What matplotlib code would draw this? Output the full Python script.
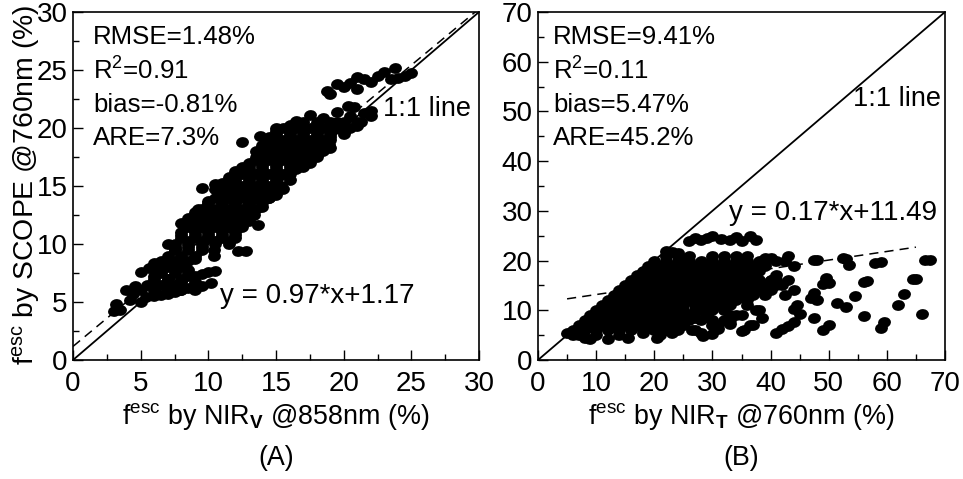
import matplotlib
matplotlib.use("Agg")
import matplotlib.pyplot as plt
from matplotlib.markers import MarkerStyle
from matplotlib.path import Path
from matplotlib.transforms import Affine2D
from matplotlib.ticker import MultipleLocator

plt.rcParams['font.family'] = ['Liberation Sans', 'DejaVu Sans']
plt.rcParams['mathtext.fontset'] = 'custom'
plt.rcParams['mathtext.rm'] = 'Liberation Sans'
plt.rcParams['mathtext.bf'] = 'Liberation Sans:bold'
plt.rcParams['mathtext.default'] = 'regular'

# Outline / isolated points
a_x = [3,3.2,3.5,3.9,4.2,4.6,5,5.4,6,6.5,7,7.5,8,8.5,9,9.5,10.2,
       9,9.5,10,10.5, 4.4,5,5.6,6,6.2,7,7.5,8,8.5,8.8,9.2,9.5,10.5,11,11.5,12,12.5,13.8,14.5,15,16,16.5,17.5,18.5,19.5,20.3,20.8,21.5,22,
       12.5,12.2,12.8,13.7,
       18.8,19,19.5,20,20.5,21,21,21.5,22,22.5,23,23.5,23.8,24,24.5,25,
       19,18.5,18,17.5,17,16,15.5,15,14.5,14,20,21,20,21.3,22,20.5,19.5,
       6,7,8,8.5]
a_y = [4.2,4.8,4.3,6,5.2,6.4,5,5.4,5.5,5.6,5.7,5.9,6,6.2,6.3,6.4,6.6,
       7.2,7.4,7.6,7.7, 5.7,7.6,7.9,8.4,7.5,10,9.6,11.8,12.2,11.5,13,14.8,15.2,15.3,15.8,16.3,16.6,19.3,19.2,20,20.3,20.6,21.1,20.9,21.4,21.9,21.8,21.3,21.5,
       18.8,9.4,9.4,11.6,
       23.2,22.9,23.8,23.5,23.9,24.4,23.4,24.2,24,24.5,24.8,24.2,25.2,24.3,24.5,24.7,
       18.3,18,17.5,17,16.6,15.5,14.7,14.2,14,13.2,20,20.2,19.7,20.5,21,21,20.5,
       7.2,7,6.8,7.2]
# Dense band of panel A, row by row
a_fill_y = [6, 6.5, 7, 7.5, 8, 8.5, 9, 9.5, 10, 10.5, 11, 11.5, 12, 12.5, 13, 13.5,
            14, 14.5, 15, 15.5, 16, 16.5, 17, 17.5, 18, 18.5, 19, 19.5, 20, 20.5,
            6.75, 7.75, 8.75, 9.75, 10.25, 10.75, 11.25, 11.75, 12.25, 12.75, 13.25, 13.75, 14.25, 14.75,
            15.25, 15.75, 16.25, 16.75, 17.25, 17.75, 18.25, 18.75, 19.25, 19.75]
a_fill_x = [[5,6,7,8,9],[5.5,6.5,7.5],[6,7,8],[6.5,7.5,8.5],[7,8],[6.5,7.5,8.5],[7,8,9,10.4],[7.5,8.5,9.5,10.4],
            [7.5,8.5,9.5,10.5,11.5],[8,9,10,11,12],[8,9,10,11,12],[8.5,9.5,10.5,11.5,12.5],[9,10,11,12,13],[9.5,10.5,11.5,12.5,13.4],
            [9.5,10.5,11.5,12.5,13.5],[10,11,12,13,14],[10.5,11.5,12.5,13.5,14.5],[11,12,13,14,14.9],[11.5,12.5,13.5,14.5,15.4],
            [12,13,14,15],[12.5,13.5,14.5,15.5,16],[13,14,15,16,16.5],[13,14,15,16,17],[13.5,14.5,15.5,16.5,17.5],
            [13.5,14.5,15.5,16.5,17.5,18.3],[14,15,16,17,18,18.9],[14.5,15.5,16.5,17.5,18.5,19],[15,16,17,18,19,20],
            [15.5,16.5,17.5,18.5,19.5,20.5],[17,18,19,20,21],
            [6,7,8,9],[6.5,7.5,8.5],[7,8,9],[7.5,8.5,9.5],[8.5,9.5,10.5,11.5],[8,9,10,11,12],[9,10,11,12],[8.5,9.5,10.5,11.5,12.5],
            [9.5,10.5,11.5,12.5],[9,10,11,12,13],[10,11,12,13],[10,11,12,13,14],[11,12,13,14],[10.5,11.5,12.5,13.5,14.5],
            [12,13,14,15],[12,13,14,15],[13,14,15,16],[13,14,15,16],[13.5,14.5,15.5,16.5],[14,15,16,17],
            [14,15,16,17,18],[14.5,15.5,16.5,17.5,18.5],[15,16,17,18,19],[15,16,17,18,19]]
a_fit_x = [0, 30]
a_fit_y = [1.17, 30.27]

b_x = [5,6,7,8,9,10,12,14,15.5,18,20.5,21,23,25,26.5,28.3,30,31,33,35,36.5,
       26,27,28,29,30,31.5,33,34,35,36.5,37.5,
       41,42,43,44,45,44.5,44,47.5,48,47,47.5,50,49.5,49,49,50,
       52.5,53,53.5,51.5,53,54.5,56,56.5,56,59,59.5,58,59,62,63,64.5,65,66,66.5,67.5,
       42.5,42,43,44,38,37.5,38.5,35.5,37,43,42.5,44,41,40,48,47.5,
       27,28,30,31,32,33,34,35,
       26,27,25,28,30,26,24,27,22,23,24,39,40,41]
b_y = [5.4,5,5,4.5,4.3,5,4.3,5,4.5,5.5,4.5,5,5.5,7,6,4.8,5.3,6.2,7.2,5.8,7,
       24,24.5,24.2,24.6,25,24.4,24.2,24.7,24,25,24.2,
       5.5,6.3,6.8,7.6,9.3,11,10.2,8.5,12,12.5,13.5,15.5,16.5,15.3,6,7,
       20.5,20.3,19.2,11.5,10.6,12.8,8.8,15.8,15.6,6.5,7.7,19.6,19.7,11.1,13.2,16.2,16.2,9.3,20.1,20.1,
       13,15,16,14,10,10,8.5,6,7,21,20,19,17,16,20.1,20.2,
       6,5.5,8,7,8,8,9,9,
       9,10,10,8,7,8,10,8.5,22,21.7,21.5,20.5,20.5,20]
# Dense cloud of panel B, row by row
b_fill_y = [6, 7, 8, 9, 10, 11, 12, 13, 14, 15, 16, 17, 18, 19, 20, 21]
b_fill_x = [[6,8,10,12,14,16,18,20,22,24],[7,9,11,13,15,17,19,21,23,25],[8,10,12,14,16,18,20,22,24],
            [9,11,13,15,17,19,21,23,25,29,33],[10,12,14,16,18,20,22,24,28,30,32],[11,13,15,17,19,21,23,25,27,29,31,33,36],
            [12,14,16,18,20,22,24,26,28,30,32,34,36],[13,15,17,19,21,23,25,27,29,31,33,35,37,39],
            [14,16,18,20,22,24,26,28,30,32,34,36,38,40],[15,17,19,21,23,25,27,29,31,33,35,37,39,41],
            [16,18,20,22,24,26,28,30,32,34,36,38,40,41],[17,19,21,23,25,27,29,31,33,35,37],
            [18,20,22,24,26,28,30,32,34,36,38],[19,21,23,25,27,29,31,33,35,37,39],
            [20,22,24,26,28,30,32,34,36,38],[22,24,26,30,32,34,36]]
b_fit_x = [5, 65]
b_fit_y = [12.3, 22.7]

ellipse = Path.unit_circle().transformed(Affine2D().scale(1.2, 1.0).rotate_deg(8))


def flatten(xs, ys, rows_y, rows_x):
    px = list(xs)
    py = list(ys)
    for y, row in zip(rows_y, rows_x):
        for x in row:
            px.append(x)
            py.append(y)
    return px, py


def panel(rect, lim, major, px, py, fx, fy, stats, stat_ys, stat_x, fit_txt, fit_xy, one_xy, xlabel, cap_x):
    ax = fig.add_axes(rect)
    ax.scatter(px, py, s=90, marker=MarkerStyle(ellipse), c='black', linewidths=0, zorder=3)
    ax.plot([0, lim], [0, lim], color='black', lw=1.3, zorder=2)
    ax.plot(fx, fy, color='black', lw=1.1, ls=(0, (6, 4)), zorder=2)
    ax.set_xlim(0, lim)
    ax.set_ylim(0, lim)
    ax.xaxis.set_major_locator(MultipleLocator(major))
    ax.yaxis.set_major_locator(MultipleLocator(major))
    ax.xaxis.set_minor_locator(MultipleLocator(major / 2))
    ax.yaxis.set_minor_locator(MultipleLocator(major / 2))
    ax.tick_params(which='major', direction='in', length=7, width=1, labelsize=20, top=False, right=False)
    ax.tick_params(which='minor', direction='in', length=4, width=1, top=False, right=False)
    ax.tick_params(axis='x', which='major', pad=8)
    ax.tick_params(axis='y', which='major', pad=4)
    for s in ax.spines.values():
        s.set_linewidth(1.2)
    for t, y in zip(stats, stat_ys):
        fig.text(stat_x / W, 1 - y / H, t, fontsize=18.6, va='center', ha='left')
    fig.text(fit_xy[0] / W, 1 - fit_xy[1] / H, fit_txt, fontsize=20, va='center', ha='left')
    fig.text(one_xy[0] / W, 1 - one_xy[1] / H, '1:1 line', fontsize=19.5, va='center', ha='left')
    fig.text(cap_x / W, 1 - 416 / H, xlabel, fontsize=19.4, va='center', ha='center')
    return ax


W, H = 963, 479
fig = plt.figure(figsize=(W / 100, H / 100), dpi=100)

stats_a = ['RMSE=1.48%', 'R$^{2}$=0.91', 'bias=-0.81%', 'ARE=7.3%']
stats_b = ['RMSE=9.41%', 'R$^{2}$=0.11', 'bias=5.47%', 'ARE=45.2%']
stat_rows = [37, 71, 105, 138]

rA = [73 / W, 1 - 360 / H, 406 / W, 348 / H]
rB = [538 / W, 1 - 360 / H, 407 / W, 348 / H]

ax_pts = flatten(a_x, a_y, a_fill_y, a_fill_x)
bx_pts = flatten(b_x, b_y, b_fill_y, b_fill_x)

panel(rA, 30, 5, ax_pts[0], ax_pts[1], a_fit_x, a_fit_y, stats_a, stat_rows, 93,
      'y = 0.97*x+1.17', (220, 296), (383, 109),
      r'f$^{esc}$ by NIR$_{\mathbf{V}}$ @858nm (%)', 276)
panel(rB, 70, 10, bx_pts[0], bx_pts[1], b_fit_x, b_fit_y, stats_b, stat_rows, 553,
      'y = 0.17*x+11.49', (729, 213), (853, 99),
      r'f$^{esc}$ by NIR$_{\mathbf{T}}$ @760nm (%)', 741)

fig.text(276 / W, 1 - 458 / H, '(A)', fontsize=19.4, va='center', ha='center')
fig.text(741 / W, 1 - 458 / H, '(B)', fontsize=19.4, va='center', ha='center')
fig.text(26 / W, 1 - 185 / H, r'f$^{esc}$ by SCOPE @760nm (%)', fontsize=20.4, rotation=90, va='center', ha='center')

fig.savefig('out.png', dpi=100)
